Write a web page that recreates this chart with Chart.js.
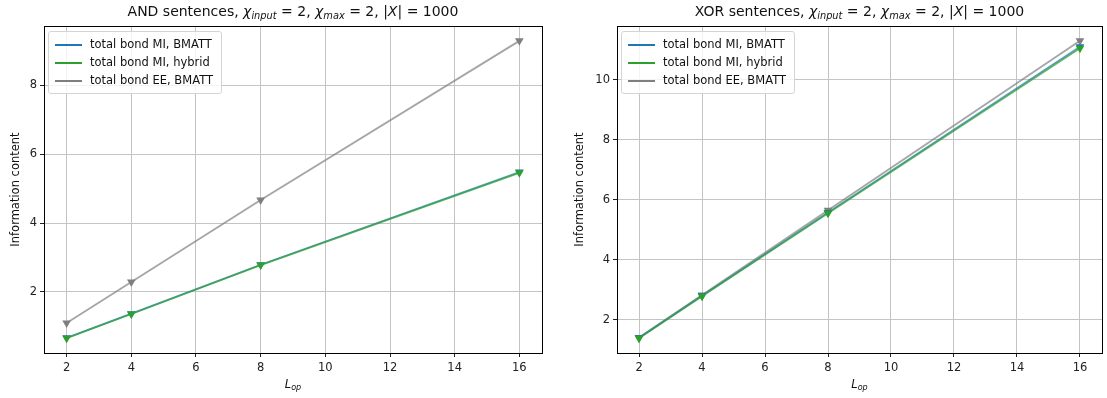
<!DOCTYPE html>
<html>
<head>
<meta charset="utf-8">
<script src="https://cdn.jsdelivr.net/npm/chart.js@4/dist/chart.umd.min.js"></script>
<style>
  body { margin: 0; background: #fff; font-family: 'DejaVu Sans', sans-serif; }
  #wrap { position: relative; width: 1107px; height: 398px; overflow: hidden; }
  canvas { position: absolute; top: 0; }
  .ttl { position: absolute; top: 3px; font-size: 14px; color: #111; white-space: nowrap; transform: translateX(-50%); }
  .xl  { position: absolute; top: 377px; font-size: 11.5px; color: #111; transform: translateX(-50%); }
  sub { font-size: 70%; vertical-align: -0.3em; line-height: 0; }
  .leg { position: absolute; top: 31px; border: 1px solid #d4d4d4; border-radius: 3px;
         background: rgba(255,255,255,0.8); padding: 3px 8px 4px 6px; font-size: 11.5px; color: #111; }
  .leg div { height: 18px; line-height: 18px; white-space: nowrap; }
  .leg span { display: inline-block; width: 27px; height: 2px; vertical-align: middle; margin-right: 8px; }
</style>
</head>
<body>
<div id="wrap">
  <canvas id="c-and" width="553" height="398" style="left:0"></canvas>
  <canvas id="c-xor" width="554" height="398" style="left:553px"></canvas>
</div>
<script>
// ── DATA ───────────────────────────────────────
const L_OP   = [2, 4, 8, 16];
const X_TICKS = [2, 4, 6, 8, 10, 12, 14, 16];

const AND_MI_BMATT  = [0.67, 1.37, 2.79, 5.48];
const AND_MI_HYBRID = [0.66, 1.36, 2.78, 5.46];
const AND_EE_BMATT  = [1.10, 2.29, 4.67, 9.29];
const AND_Y_TICKS   = [2, 4, 6, 8];

const XOR_MI_BMATT  = [1.40, 2.80, 5.58, 11.10];
const XOR_MI_HYBRID = [1.39, 2.79, 5.55, 11.05];
const XOR_EE_BMATT  = [1.41, 2.83, 5.65, 11.30];
const XOR_Y_TICKS   = [2, 4, 6, 8, 10];

const LABELS = ['total bond MI, BMATT', 'total bond MI, hybrid', 'total bond EE, BMATT'];
const COLORS = ['#1f77b4', '#2ca02c', '#7f7f7f'];
const FADED  = ['rgba(31,119,180,0.7)', 'rgba(44,160,44,0.7)', 'rgba(127,127,127,0.7)'];
const ORDER  = [2, 1, 3];   // gray drawn first, green on top

const FONT = "'DejaVu Sans', sans-serif";

// matplotlib-style 5% margins
function lims(arr) {
  const lo = Math.min(...arr), hi = Math.max(...arr), m = (hi - lo) * 0.05;
  return [lo - m, hi + m];
}

// spines on all four sides
const spines = {
  id: 'spines',
  afterDatasetsDraw(chart) {
    const { ctx, chartArea: a } = chart;
    ctx.save();
    ctx.strokeStyle = '#000';
    ctx.lineWidth = 1;
    ctx.strokeRect(Math.round(a.left) + 0.5, Math.round(a.top) + 0.5,
                   Math.round(a.right - a.left), Math.round(a.bottom - a.top));
    ctx.restore();
  }
};

function makeChart(id, series, yTicks, opts) {
  const [ymin, ymax] = lims(series.flat());
  const [xmin, xmax] = lims(L_OP);
  const datasets = series.map((vals, i) => ({
    label: LABELS[i],
    data: L_OP.map((x, j) => ({ x, y: vals[j] })),
    borderColor: FADED[i],
    backgroundColor: COLORS[i],
    pointBackgroundColor: COLORS[i],
    pointBorderColor: COLORS[i],
    borderWidth: 1.8,
    pointStyle: 'triangle',
    pointRotation: 180,
    pointRadius: 5,
    pointBorderWidth: 0,
    order: ORDER[i]
  }));

  return new Chart(document.getElementById(id), {
    type: 'line',
    data: { datasets },
    options: {
      responsive: false,
      animation: false,
      layout: { padding: { left: 0, top: 26, right: opts.padRight, bottom: 0 } },
      plugins: { legend: { display: false }, tooltip: { enabled: false } },
      scales: {
        x: {
          type: 'linear', min: xmin, max: xmax,
          afterBuildTicks: s => { s.ticks = X_TICKS.map(v => ({ value: v })); },
          afterFit: s => { s.height = 45; },
          grid: { color: '#c4c4c4', lineWidth: 1, tickLength: 4, tickColor: '#222' },
          border: { display: false },
          ticks: { color: '#222', font: { family: FONT, size: 11.5 }, padding: 4, maxRotation: 0 }
        },
        y: {
          type: 'linear', min: ymin, max: ymax,
          afterBuildTicks: s => { s.ticks = yTicks.map(v => ({ value: v })); },
          afterFit: s => { s.width = opts.yWidth; },
          grid: { color: '#c4c4c4', lineWidth: 1, tickLength: 4, tickColor: '#222' },
          border: { display: false },
          ticks: { color: '#222', font: { family: FONT, size: 11.5 }, padding: 3 },
          title: { display: true, text: 'Information content', color: '#111',
                   font: { family: FONT, size: 11.5 }, padding: { top: opts.titlePad, bottom: 0 } }
        }
      }
    },
    plugins: [spines]
  });
}

const andChart = makeChart('c-and', [AND_MI_BMATT, AND_MI_HYBRID, AND_EE_BMATT], AND_Y_TICKS,
  { yWidth: 44, padRight: 11, titlePad: 9 });
const xorChart = makeChart('c-xor', [XOR_MI_BMATT, XOR_MI_HYBRID, XOR_EE_BMATT], XOR_Y_TICKS,
  { yWidth: 64, padRight: 0, titlePad: 20 });

// ── TITLES, X LABELS, LEGENDS (HTML overlays) ──
const wrap = document.getElementById('wrap');
function overlay(chart, offsetX, name) {
  const a = chart.chartArea;
  const cx = offsetX + (a.left + a.right) / 2;

  const t = document.createElement('div');
  t.className = 'ttl';
  t.style.left = cx + 'px';
  t.innerHTML = name + ' sentences, <i>χ</i><sub><i>input</i></sub> = 2, <i>χ</i><sub><i>max</i></sub> = 2, |<i>X</i>| = 1000';
  wrap.appendChild(t);

  const xl = document.createElement('div');
  xl.className = 'xl';
  xl.style.left = cx + 'px';
  xl.innerHTML = '<i>L</i><sub><i>op</i></sub>';
  wrap.appendChild(xl);

  const lg = document.createElement('div');
  lg.className = 'leg';
  lg.style.left = (offsetX + a.left + 4) + 'px';
  lg.innerHTML = LABELS.map((l, i) => `<div><span style="background:${COLORS[i]}"></span>${l}</div>`).join('');
  wrap.appendChild(lg);
}
overlay(andChart, 0, 'AND');
overlay(xorChart, 553, 'XOR');
</script>
</body>
</html>
